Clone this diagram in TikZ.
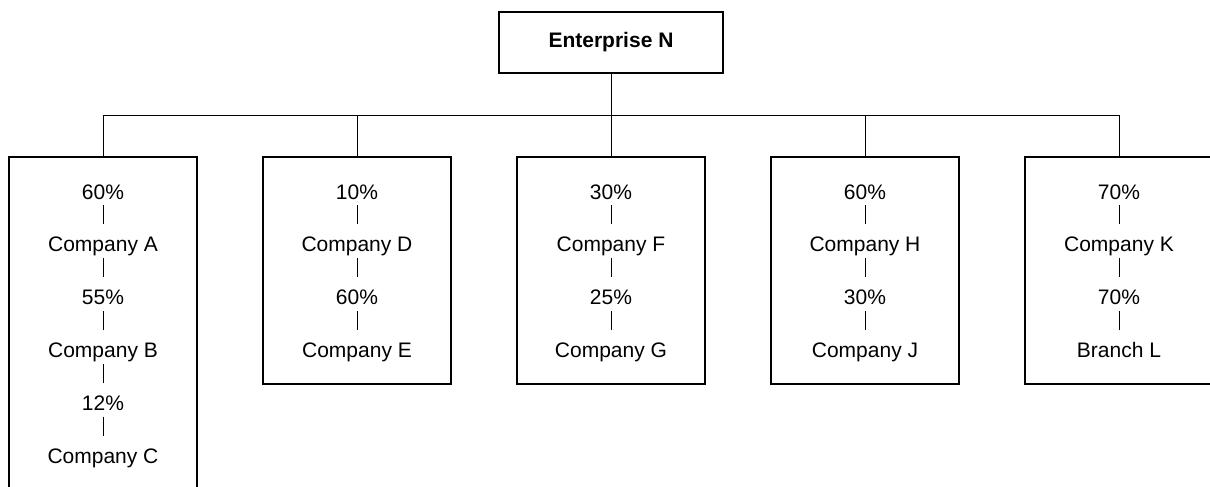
\documentclass[tikz,border=0pt]{standalone}
\usepackage{fontspec}
\setmainfont{Liberation Sans}
\usetikzlibrary{positioning}
\tikzset{
  headbox/.style={draw,line width=1pt,minimum width=112pt,minimum height=30.5pt,font=\fontsize{10.5}{12}\selectfont\bfseries},
  holdbox/.style={draw,line width=1pt,minimum width=94pt,minimum height=113.5pt,anchor=north},
  entry/.style={inner sep=0pt,text height=7.5pt,text depth=0pt},
  link/.style={line width=0.5pt},
  share/.style={line width=0.5pt,shorten <=3pt,shorten >=6pt},
  stack/.style={below=18.5pt of #1}
}

\begin{document}
\begin{tikzpicture}[x=0.5pt,y=-0.5pt,font=\fontsize{10.5}{12}\selectfont]
                \useasboundingbox (0,0) rectangle (1210,487);
                \clip (0,0) rectangle (1210,487);

                \node[headbox] (ent) at (611,42.5) {Enterprise N};
                \coordinate (bus) at (611,115);

                \node[holdbox,minimum height=175pt] (boxA) at (103,156) {};
                \node[holdbox] (boxD) at (357,156) {};
                \node[holdbox] (boxF) at (611,156) {};
                \node[holdbox] (boxH) at (865,156) {};
                \node[holdbox] (boxK) at (1119,156) {};

                \draw[link] (ent) -- (bus);
                \draw[link] (boxA.north) -- (boxA.north |- bus) -- (boxK.north |- bus) -- (boxK.north);
                \foreach \b in {boxD,boxF,boxH}
                    \draw[link] (\b.north) -- (\b.north |- bus);

                \node[entry] (pA) at (103,191.5) {60\%};
                \node[entry,stack=pA] (cA) {Company A};
                \node[entry,stack=cA] (pB) {55\%};
                \node[entry,stack=pB] (cB) {Company B};
                \node[entry,stack=cB] (pC) {12\%};
                \node[entry,stack=pC] (cC) {Company C};

                \node[entry] (pD) at (357,191.5) {10\%};
                \node[entry,stack=pD] (cD) {Company D};
                \node[entry,stack=cD] (pE) {60\%};
                \node[entry,stack=pE] (cE) {Company E};

                \node[entry] (pF) at (611,191.5) {30\%};
                \node[entry,stack=pF] (cF) {Company F};
                \node[entry,stack=cF] (pG) {25\%};
                \node[entry,stack=pG] (cG) {Company G};

                \node[entry] (pH) at (865,191.5) {60\%};
                \node[entry,stack=pH] (cH) {Company H};
                \node[entry,stack=cH] (pJ) {30\%};
                \node[entry,stack=pJ] (cJ) {Company J};

                \node[entry] (pK) at (1119,191.5) {70\%};
                \node[entry,stack=pK] (cK) {Company K};
                \node[entry,stack=cK] (pL) {70\%};
                \node[entry,stack=pL] (cL) {Branch L};

                \draw[share] (pA) -- (cA);
                \draw[share] (cA) -- (pB);
                \draw[share] (pB) -- (cB);
                \draw[share] (cB) -- (pC);
                \draw[share] (pC) -- (cC);
                \foreach \u/\v/\w/\z in {pD/cD/pE/cE,pF/cF/pG/cG,pH/cH/pJ/cJ,pK/cK/pL/cL} {
                    \draw[share] (\u) -- (\v);
                    \draw[share] (\v) -- (\w);
                    \draw[share] (\w) -- (\z);
                }
            \end{tikzpicture}
\end{document}
